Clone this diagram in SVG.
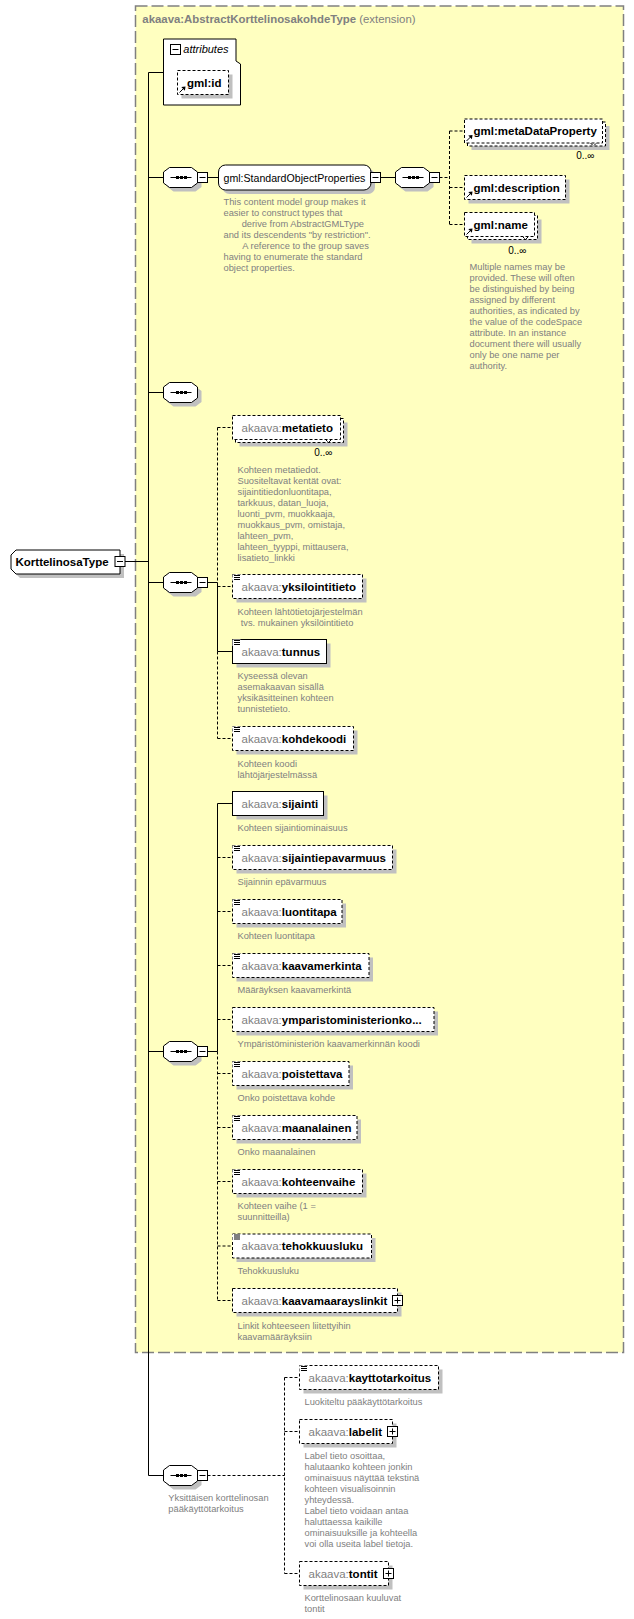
<svg xmlns="http://www.w3.org/2000/svg" width="634" height="1619" viewBox="0 0 634 1619">
<style>
.bg{fill:#fff}
.yl{fill:#ffffc0;stroke:#808080;stroke-width:1.5;stroke-dasharray:12,4}
.box{fill:#fff;stroke:#000;stroke-width:1}
.opt{stroke-dasharray:3,2}
.sh{fill:#c0c0c0}
.ln{stroke:#000;stroke-width:1;fill:none}
.dl{stroke-dasharray:3,2}
.t{font-family:"Liberation Sans",Arial,sans-serif}
.nm{font-size:11.5px;font-weight:bold;fill:#000}
.pre{font-weight:normal;fill:#808080}
.desc{font-size:9.3px;fill:#808080}
.occ{font-size:10px;fill:#000}
.ttl{font-size:11.4px;fill:#808080}
</style>
<defs>
<path id="oct" d="M6,0 H28 L34,4.5 V15.5 L28,20 H6 L0,15.5 V4.5 Z"/>
<g id="seqnode">
<use href="#oct" x="4" y="4" class="sh"/>
<use href="#oct" class="box"/>
<path d="M7,10 H28" class="ln"/>
<rect x="12.5" y="8.5" width="3" height="3" fill="#000"/>
<rect x="16.5" y="8.5" width="3" height="3" fill="#000"/>
<rect x="20.5" y="8.5" width="3" height="3" fill="#000"/>
</g>
<g id="minus"><rect x="0" y="0" width="10" height="10" class="box"/><path d="M2,5 H8" class="ln"/></g>
<g id="plus"><rect x="0" y="0" width="10" height="10" class="box"/><path d="M2,5 H8 M5,2 V8" class="ln"/></g>
<g id="lines"><rect x="-0.5" y="-0.5" width="8" height="6.5" fill="#fff"/><path d="M1,0.5 H7 M1,2.5 H7 M1,4.5 H7" class="ln"/></g>
<g id="ref"><path d="M0,0 L4.5,-4.5" class="ln"/><path d="M6,-6 L1.8,-5.4 L5.4,-1.8 Z" fill="#000"/></g>
</defs>
<rect x="0" y="0" width="634" height="1619" class="bg"/>

<g id="extension">
<rect x="135.5" y="6" width="488" height="1346.5" class="yl"/>
<text x="142.3" y="23" class="t ttl"><tspan font-weight="bold">akaava:AbstractKorttelinosakohdeType</tspan> (extension)</text>
</g>

<g id="connectors">
<path class="ln" d="M148.5,72.5 V1475.5 M148.5,72.5 H163.5 M125,561.5 H148.5 M148.5,177.5 H163.5 M148.5,392.5 H163.5 M148.5,582.5 H163.5 M148.5,1051.5 H163.5 M148.5,1475.5 H163.5"/>
<path class="ln" d="M207.5,177.5 H218.5 M381,177.5 H395.5"/>
<path class="ln dl" d="M439.5,177.5 H449.5 M449.5,131 V224.5 M449.5,131 H464.5 M449.5,187.5 H464.5 M449.5,224.5 H464.5"/>
<path class="ln" d="M207.5,582.5 H217.5 V651.5 H232.5"/>
<path class="ln dl" d="M217.5,427.5 V582.5 M217.5,651.5 V738.5 M217.5,427.5 H232.5 M217.5,586.5 H232.5 M217.5,738.5 H232.5"/>
<path class="ln" d="M207.5,1051.5 H217.5 V803.5 H232.5"/>
<path class="ln dl" d="M217.5,1051.5 V1300.5 M217.5,857.5 H232.5 M217.5,911.5 H232.5 M217.5,965.5 H232.5 M217.5,1019.5 H232.5 M217.5,1073.5 H232.5 M217.5,1127.5 H232.5 M217.5,1181.5 H232.5 M217.5,1246 H232.5 M217.5,1300.5 H232.5"/>
<path class="ln dl" d="M207.5,1475.5 H284.5 M284.5,1377.5 V1573.5 M284.5,1377.5 H299.5 M284.5,1431.5 H299.5 M284.5,1573.5 H299.5"/>
</g>

<g id="KorttelinosaType">
<path d="M20,554 H124 V578 H20 L15,573 V559 Z" class="sh"/>
<path d="M16,550 H120 V574 H16 L11,569 V555 Z" class="box"/>
<text x="15.5" y="565.5" class="t nm">KorttelinosaType</text>
<use href="#minus" x="115" y="556.5"/>
</g>

<g id="attributes">
<path d="M163.5,39 H236 V61 L240.5,64 V105 H163.5 Z" class="box"/>
<use href="#minus" x="170.5" y="44.5"/>
<text x="183.3" y="53" class="t" font-size="11px" font-style="italic" fill="#000">attributes</text>
<g id="gml-id">
<rect x="181.5" y="74.5" width="51" height="24" class="sh"/>
<rect x="177.5" y="70.5" width="51" height="24" class="box opt"/>
<use href="#ref" x="179.5" y="92.5"/>
<text x="187" y="86.5" class="t nm">gml:id</text>
</g>
</g>

<g id="seq1"><use href="#seqnode" x="163.5" y="167.5"/><use href="#minus" x="197.5" y="172.5"/></g>

<g id="StandardObjectProperties">
<rect x="222.5" y="169" width="152.5" height="25" rx="7" class="sh"/>
<rect x="218.5" y="165" width="152.5" height="25" rx="7" class="box"/>
<text x="223.5" y="181.5" class="t" font-size="10.6px" fill="#000">gml:StandardObjectProperties</text>
<use href="#minus" x="370.5" y="172.5"/>
<text class="t desc"><tspan x="223.5" y="205">This content model group makes it</tspan><tspan x="223.5" y="216">easier to construct types that</tspan><tspan x="241.7" y="227">derive from AbstractGMLType</tspan><tspan x="223.5" y="238">and its descendents "by restriction".</tspan><tspan x="242.3" y="249">A reference to the group saves</tspan><tspan x="223.5" y="260">having to enumerate the standard</tspan><tspan x="223.5" y="271">object properties.</tspan></text>
</g>

<g id="seq2"><use href="#seqnode" x="395.5" y="167.5"/><use href="#minus" x="429.5" y="172.5"/></g>

<g id="gml-metaDataProperty">
<rect x="471.5" y="126" width="138" height="24" class="sh"/>
<rect x="467.5" y="122" width="138" height="24" class="box opt"/>
<rect x="464.5" y="119" width="138" height="24" class="box opt"/>
<path d="M590.5,143 l3,3 l3,-3" class="ln dl"/>
<use href="#ref" x="466.5" y="141"/>
<text x="473.5" y="135" class="t nm">gml:metaDataProperty</text>
<text x="594.5" y="159" class="t occ" text-anchor="end">0..∞</text>
</g>

<g id="gml-description">
<rect x="468.5" y="179.5" width="101" height="24" class="sh"/>
<rect x="464.5" y="175.5" width="101" height="24" class="box opt"/>
<use href="#ref" x="466.5" y="197.5"/>
<text x="473.5" y="191.5" class="t nm">gml:description</text>
</g>

<g id="gml-name">
<rect x="471.5" y="219.5" width="70" height="24" class="sh"/>
<rect x="467.5" y="215.5" width="70" height="24" class="box opt"/>
<rect x="464.5" y="212.5" width="70" height="24" class="box opt"/>
<path d="M522.5,236.5 l3,3 l3,-3" class="ln dl"/>
<use href="#ref" x="466.5" y="234.5"/>
<text x="473.5" y="228.5" class="t nm">gml:name</text>
<text x="526.5" y="253.5" class="t occ" text-anchor="end">0..∞</text>
<text class="t desc"><tspan x="469.5" y="269.5">Multiple names may be</tspan><tspan x="469.5" y="280.5">provided.  These will often</tspan><tspan x="469.5" y="291.5">be distinguished by being</tspan><tspan x="469.5" y="302.5">assigned by different</tspan><tspan x="469.5" y="313.5">authorities, as indicated by</tspan><tspan x="469.5" y="324.5">the value of the codeSpace</tspan><tspan x="469.5" y="335.5">attribute.  In an instance</tspan><tspan x="469.5" y="346.5">document there will usually</tspan><tspan x="469.5" y="357.5">only be one name per</tspan><tspan x="469.5" y="368.5">authority.</tspan></text>
</g>

<g id="seq3"><use href="#seqnode" x="163.5" y="382.5"/></g>

<g id="seq4"><use href="#seqnode" x="163.5" y="572.5"/><use href="#minus" x="197.5" y="577.5"/></g>

<g id="metatieto">
<rect x="239.5" y="422.5" width="108" height="24" class="sh"/>
<rect x="235.5" y="418.5" width="108" height="24" class="box opt"/>
<rect x="232.5" y="415.5" width="108" height="24" class="box opt"/>
<path d="M325.5,439.5 l3,3 l3,-3" class="ln dl"/>
<text x="241.5" y="431.5" class="t nm"><tspan class="pre">akaava:</tspan>metatieto</text>
<text x="332.5" y="456" class="t occ" text-anchor="end">0..∞</text>
<text class="t desc"><tspan x="237.5" y="472.5">Kohteen metatiedot.</tspan><tspan x="237.5" y="483.5">Suositeltavat kentät ovat:</tspan><tspan x="237.5" y="494.5">sijaintitiedonluontitapa,</tspan><tspan x="237.5" y="505.5">tarkkuus, datan_luoja,</tspan><tspan x="237.5" y="516.5">luonti_pvm, muokkaaja,</tspan><tspan x="237.5" y="527.5">muokkaus_pvm, omistaja,</tspan><tspan x="237.5" y="538.5">lahteen_pvm,</tspan><tspan x="237.5" y="549.5">lahteen_tyyppi, mittausera,</tspan><tspan x="237.5" y="560.5">lisatieto_linkki</tspan></text>
</g>

<g id="yksilointitieto">
<rect x="236.5" y="578.5" width="130" height="24" class="sh"/>
<rect x="232.5" y="574.5" width="130" height="24" class="box opt"/>
<use href="#lines" x="233" y="575"/>
<text x="241.5" y="590.5" class="t nm"><tspan class="pre">akaava:</tspan>yksilointitieto</text>
<text class="t desc"><tspan x="237.5" y="614.5">Kohteen lähtötietojärjestelmän</tspan><tspan x="240.7" y="625.5">tvs. mukainen yksilöintitieto</tspan></text>
</g>

<g id="tunnus">
<rect x="236.5" y="643.5" width="94" height="24" class="sh"/>
<rect x="232.5" y="639.5" width="94" height="24" class="box"/>
<use href="#lines" x="233" y="640"/>
<text x="241.5" y="655.5" class="t nm"><tspan class="pre">akaava:</tspan>tunnus</text>
<text class="t desc"><tspan x="237.5" y="679">Kyseessä olevan</tspan><tspan x="237.5" y="690">asemakaavan sisällä</tspan><tspan x="237.5" y="701">yksikäsitteinen kohteen</tspan><tspan x="237.5" y="712">tunnistetieto.</tspan></text>
</g>

<g id="kohdekoodi">
<rect x="236.5" y="730.5" width="121" height="24" class="sh"/>
<rect x="232.5" y="726.5" width="121" height="24" class="box opt"/>
<use href="#lines" x="233" y="727"/>
<text x="241.5" y="742.5" class="t nm"><tspan class="pre">akaava:</tspan>kohdekoodi</text>
<text class="t desc"><tspan x="237.5" y="766.5">Kohteen koodi</tspan><tspan x="237.5" y="777.5">lähtöjärjestelmässä</tspan></text>
</g>

<g id="seq5"><use href="#seqnode" x="163.5" y="1041.5"/><use href="#minus" x="197.5" y="1046.5"/></g>

<g id="sijainti">
<rect x="236.5" y="795.5" width="91" height="24" class="sh"/>
<rect x="232.5" y="791.5" width="91" height="24" class="box"/>
<text x="241.5" y="807.5" class="t nm"><tspan class="pre">akaava:</tspan>sijainti</text>
<text x="237.5" y="831" class="t desc">Kohteen sijaintiominaisuus</text>
</g>

<g id="sijaintiepavarmuus">
<rect x="236.5" y="849.5" width="160" height="24" class="sh"/>
<rect x="232.5" y="845.5" width="160" height="24" class="box opt"/>
<use href="#lines" x="233" y="846"/>
<text x="241.5" y="861.5" class="t nm"><tspan class="pre">akaava:</tspan>sijaintiepavarmuus</text>
<text x="237.5" y="885" class="t desc">Sijainnin epävarmuus</text>
</g>

<g id="luontitapa">
<rect x="236.5" y="903.5" width="109.5" height="24" class="sh"/>
<rect x="232.5" y="899.5" width="109.5" height="24" class="box opt"/>
<use href="#lines" x="233" y="900"/>
<text x="241.5" y="915.5" class="t nm"><tspan class="pre">akaava:</tspan>luontitapa</text>
<text x="237.5" y="939" class="t desc">Kohteen luontitapa</text>
</g>

<g id="kaavamerkinta">
<rect x="236.5" y="957.5" width="136.5" height="24" class="sh"/>
<rect x="232.5" y="953.5" width="136.5" height="24" class="box opt"/>
<use href="#lines" x="233" y="954"/>
<text x="241.5" y="969.5" class="t nm"><tspan class="pre">akaava:</tspan>kaavamerkinta</text>
<text x="237.5" y="993" class="t desc">Määräyksen kaavamerkintä</text>
</g>

<g id="ymparistoministerionkoodi">
<rect x="236.5" y="1011.5" width="201.5" height="24" class="sh"/>
<rect x="232.5" y="1007.5" width="201.5" height="24" class="box opt"/>
<text x="241.5" y="1023.5" class="t nm"><tspan class="pre">akaava:</tspan>ymparistoministerionko...</text>
<text x="237.5" y="1047" class="t desc">Ympäristöministeriön kaavamerkinnän koodi</text>
</g>

<g id="poistettava">
<rect x="236.5" y="1065.5" width="116.5" height="24" class="sh"/>
<rect x="232.5" y="1061.5" width="116.5" height="24" class="box opt"/>
<use href="#lines" x="233" y="1062"/>
<text x="241.5" y="1077.5" class="t nm"><tspan class="pre">akaava:</tspan>poistettava</text>
<text x="237.5" y="1101" class="t desc">Onko poistettava kohde</text>
</g>

<g id="maanalainen">
<rect x="236.5" y="1119.5" width="124.5" height="24" class="sh"/>
<rect x="232.5" y="1115.5" width="124.5" height="24" class="box opt"/>
<use href="#lines" x="233" y="1116"/>
<text x="241.5" y="1131.5" class="t nm"><tspan class="pre">akaava:</tspan>maanalainen</text>
<text x="237.5" y="1155" class="t desc">Onko maanalainen</text>
</g>

<g id="kohteenvaihe">
<rect x="236.5" y="1173.5" width="130" height="24" class="sh"/>
<rect x="232.5" y="1169.5" width="130" height="24" class="box opt"/>
<use href="#lines" x="233" y="1170"/>
<text x="241.5" y="1185.5" class="t nm"><tspan class="pre">akaava:</tspan>kohteenvaihe</text>
<text class="t desc"><tspan x="237.5" y="1209">Kohteen vaihe (1 =</tspan><tspan x="237.5" y="1220">suunnitteilla)</tspan></text>
</g>

<g id="tehokkuusluku">
<rect x="236.5" y="1238" width="139" height="24" class="sh"/>
<rect x="232.5" y="1234" width="139" height="24" class="box opt"/>
<use href="#lines" x="233" y="1234.5"/>
<text x="241.5" y="1250" class="t nm"><tspan class="pre">akaava:</tspan>tehokkuusluku</text>
<text x="237.5" y="1274" class="t desc">Tehokkuusluku</text>
</g>

<g id="kaavamaarayslinkit">
<rect x="236.5" y="1292.5" width="165" height="24" class="sh"/>
<rect x="232.5" y="1288.5" width="165" height="24" class="box opt"/>
<text x="241.5" y="1304.5" class="t nm"><tspan class="pre">akaava:</tspan>kaavamaarayslinkit</text>
<use href="#plus" x="392.5" y="1295.5"/>
<text class="t desc"><tspan x="237.5" y="1328.5">Linkit kohteeseen liitettyihin</tspan><tspan x="237.5" y="1339.5">kaavamääräyksiin</tspan></text>
</g>

<g id="seq6">
<use href="#seqnode" x="163.5" y="1465.5"/><use href="#minus" x="197.5" y="1470.5"/>
<text class="t desc"><tspan x="168.3" y="1501">Yksittäisen korttelinosan</tspan><tspan x="168.3" y="1512">pääkäyttötarkoitus</tspan></text>
</g>

<g id="kayttotarkoitus">
<rect x="303.5" y="1369.5" width="139" height="24" class="sh"/>
<rect x="299.5" y="1365.5" width="139" height="24" class="box opt"/>
<use href="#lines" x="300" y="1366"/>
<text x="308.5" y="1381.5" class="t nm"><tspan class="pre">akaava:</tspan>kayttotarkoitus</text>
<text x="304.5" y="1405" class="t desc">Luokiteltu pääkäyttötarkoitus</text>
</g>

<g id="labelit">
<rect x="303.5" y="1423.5" width="93" height="24" class="sh"/>
<rect x="299.5" y="1419.5" width="93" height="24" class="box opt"/>
<text x="308.5" y="1435.5" class="t nm"><tspan class="pre">akaava:</tspan>labelit</text>
<use href="#plus" x="387.5" y="1426.5"/>
<text class="t desc"><tspan x="304.5" y="1459">Label tieto osoittaa,</tspan><tspan x="304.5" y="1470">halutaanko kohteen jonkin</tspan><tspan x="304.5" y="1481">ominaisuus näyttää tekstinä</tspan><tspan x="304.5" y="1492">kohteen visualisoinnin</tspan><tspan x="304.5" y="1503">yhteydessä.</tspan><tspan x="304.5" y="1514">Label tieto voidaan antaa</tspan><tspan x="304.5" y="1525">haluttaessa kaikille</tspan><tspan x="304.5" y="1536">ominaisuuksille ja kohteella</tspan><tspan x="304.5" y="1547">voi olla useita label tietoja.</tspan></text>
</g>

<g id="tontit">
<rect x="303.5" y="1565.5" width="89" height="24" class="sh"/>
<rect x="299.5" y="1561.5" width="89" height="24" class="box opt"/>
<text x="308.5" y="1577.5" class="t nm"><tspan class="pre">akaava:</tspan>tontit</text>
<use href="#plus" x="383.5" y="1568.5"/>
<text class="t desc"><tspan x="304.5" y="1601">Korttelinosaan kuuluvat</tspan><tspan x="304.5" y="1612">tontit</tspan></text>
</g>
</svg>
